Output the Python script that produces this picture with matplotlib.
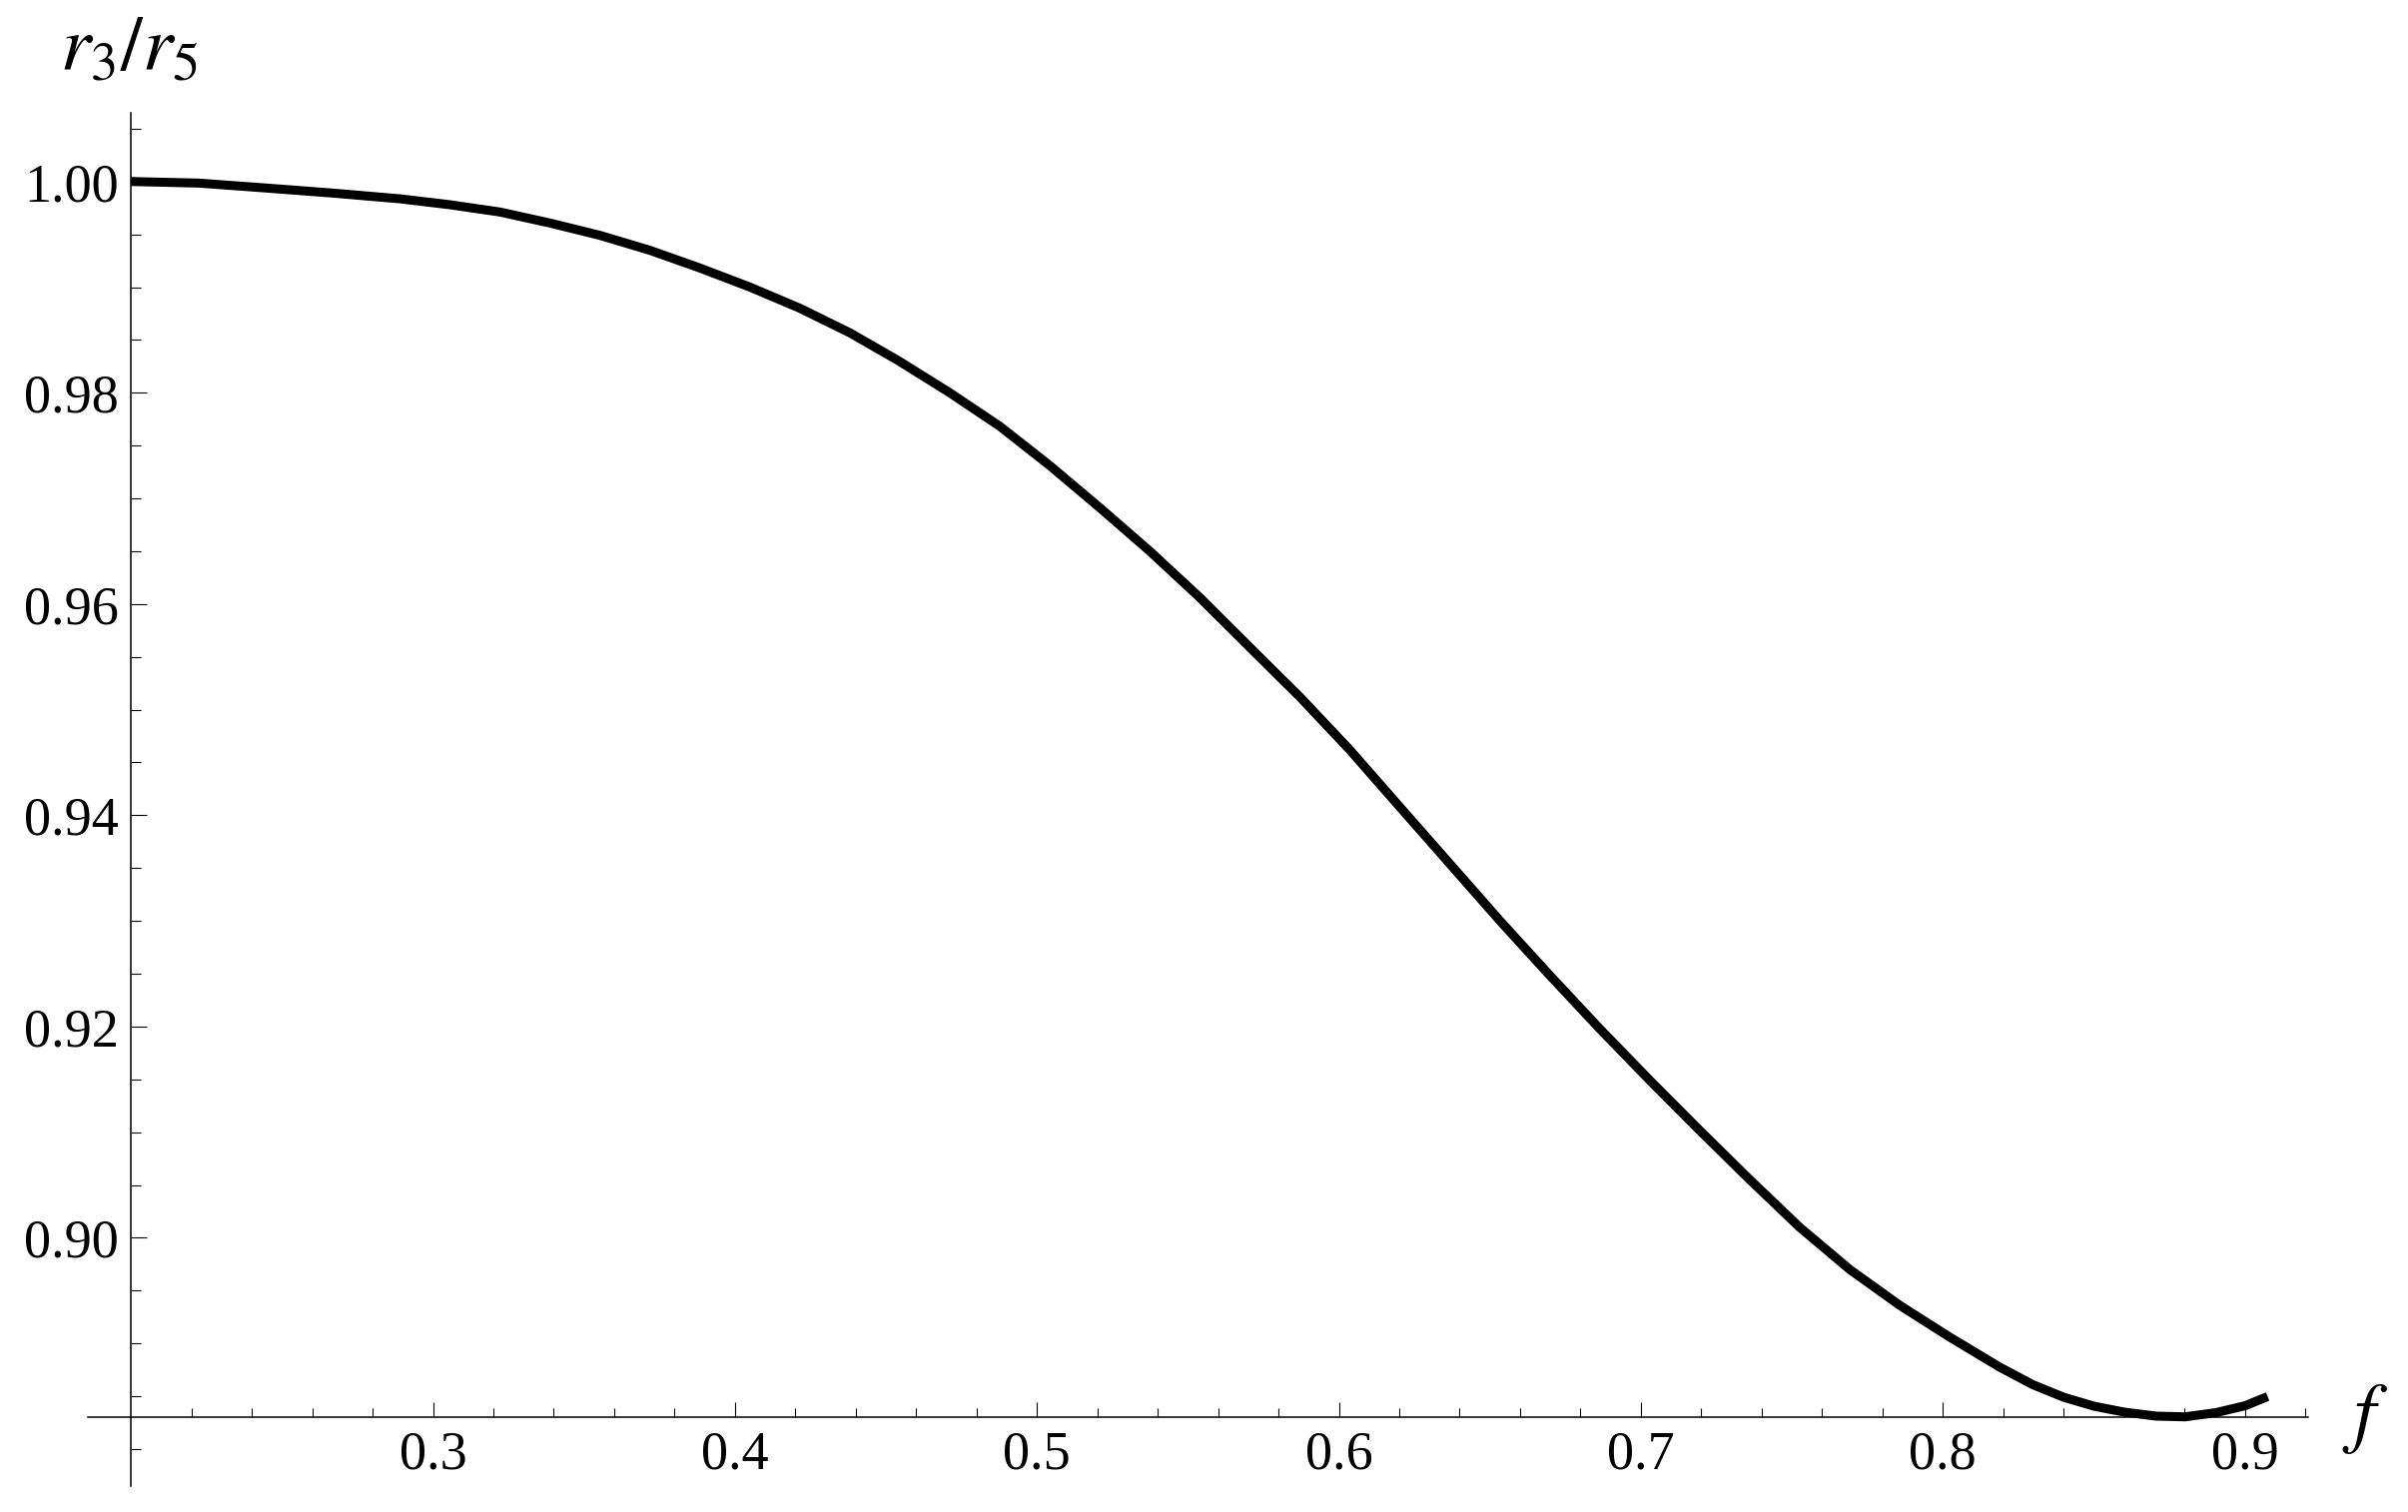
import matplotlib
matplotlib.use("Agg")
import matplotlib.pyplot as plt
from matplotlib.ticker import FixedLocator, FixedFormatter

plt.rcParams['mathtext.fontset'] = 'stix'
plt.rcParams['font.family'] = ['Liberation Serif', 'DejaVu Serif']

# data
f_vals = [0.2000, 0.2225, 0.2449, 0.2670, 0.2891, 0.3056, 0.3222, 0.3387,
          0.3553, 0.3719, 0.3884, 0.4050, 0.4215, 0.4381, 0.4540, 0.4712,
          0.4877, 0.5043, 0.5209, 0.5374, 0.5540, 0.5705, 0.5871, 0.6036,
          0.6200, 0.6368, 0.6533, 0.6699, 0.6864, 0.7030, 0.7195, 0.7361,
          0.7526, 0.7692, 0.7858, 0.8023, 0.8189, 0.8298, 0.8401, 0.8502,
          0.8601, 0.8706, 0.8802, 0.8905, 0.9001, 0.9076]
ratio_vals = [1.00000, 0.99985, 0.99938, 0.99890, 0.99836, 0.99780, 0.99711, 0.99607,
              0.99490, 0.99348, 0.99181, 0.99000, 0.98800, 0.98567, 0.98306, 0.97999,
              0.97683, 0.97310, 0.96910, 0.96500, 0.96060, 0.95590, 0.95120, 0.94620,
              0.94085, 0.93539, 0.93003, 0.92483, 0.91979, 0.91490, 0.91017, 0.90550,
              0.90100, 0.89700, 0.89360, 0.89060, 0.88775, 0.88610, 0.88490, 0.88405,
              0.88350, 0.88312, 0.88305, 0.88345, 0.88410, 0.88497]

x_major = [0.3, 0.4, 0.5, 0.6, 0.7, 0.8, 0.9]
x_labels = ["0.3", "0.4", "0.5", "0.6", "0.7", "0.8", "0.9"]
y_major = [0.90, 0.92, 0.94, 0.96, 0.98, 1.00]
y_labels = ["0.90", "0.92", "0.94", "0.96", "0.98", "1.00"]

W, H = 2411, 1514
fig = plt.figure(figsize=(W / 100, H / 100), dpi=100)
left_px, right_px, top_px, bottom_px = 88, 2311, 113, 1488
ax = fig.add_axes([left_px / W, 1 - bottom_px / H,
                   (right_px - left_px) / W, (bottom_px - top_px) / H])

ax.plot(f_vals, ratio_vals, color='black', lw=6.5, solid_capstyle='butt',
        solid_joinstyle='round', zorder=3)

ax.set_xlim(0.1857, 0.921)
ax.set_ylim(0.8765, 1.0065)

for s in ['top', 'right']:
    ax.spines[s].set_visible(False)
ax.spines['left'].set_position(('data', 0.2))
ax.spines['bottom'].set_position(('data', 0.883))
for s in ['left', 'bottom']:
    ax.spines[s].set_linewidth(1.1)
    ax.spines[s].set_zorder(2)

ax.xaxis.set_major_locator(FixedLocator(x_major))
ax.xaxis.set_major_formatter(FixedFormatter(x_labels))
ax.xaxis.set_minor_locator(FixedLocator([0.22 + 0.02 * i for i in range(36)]))
ax.yaxis.set_major_locator(FixedLocator(y_major))
ax.yaxis.set_major_formatter(FixedFormatter(y_labels))
ax.yaxis.set_minor_locator(FixedLocator([0.88 + 0.005 * i for i in range(26)]))

ax.tick_params(axis='x', which='major', direction='in', length=10.8, width=0.8,
               pad=9, labelsize=39)
ax.tick_params(axis='x', which='minor', direction='in', length=6.5, width=0.8)
ax.tick_params(axis='y', which='major', direction='in', length=11.5, width=0.8,
               pad=9, labelsize=39)
ax.tick_params(axis='y', which='minor', direction='in', length=7.2, width=0.8)

fig.text(60 / W, 1 - 70 / H, r'$r_3/r_5$', fontsize=56, va='baseline', ha='left')
fig.text(2345 / W, 1 - 1440 / H, r'$f$', fontsize=56, va='baseline', ha='left')

fig.savefig('out.png', dpi=100, facecolor='white')
